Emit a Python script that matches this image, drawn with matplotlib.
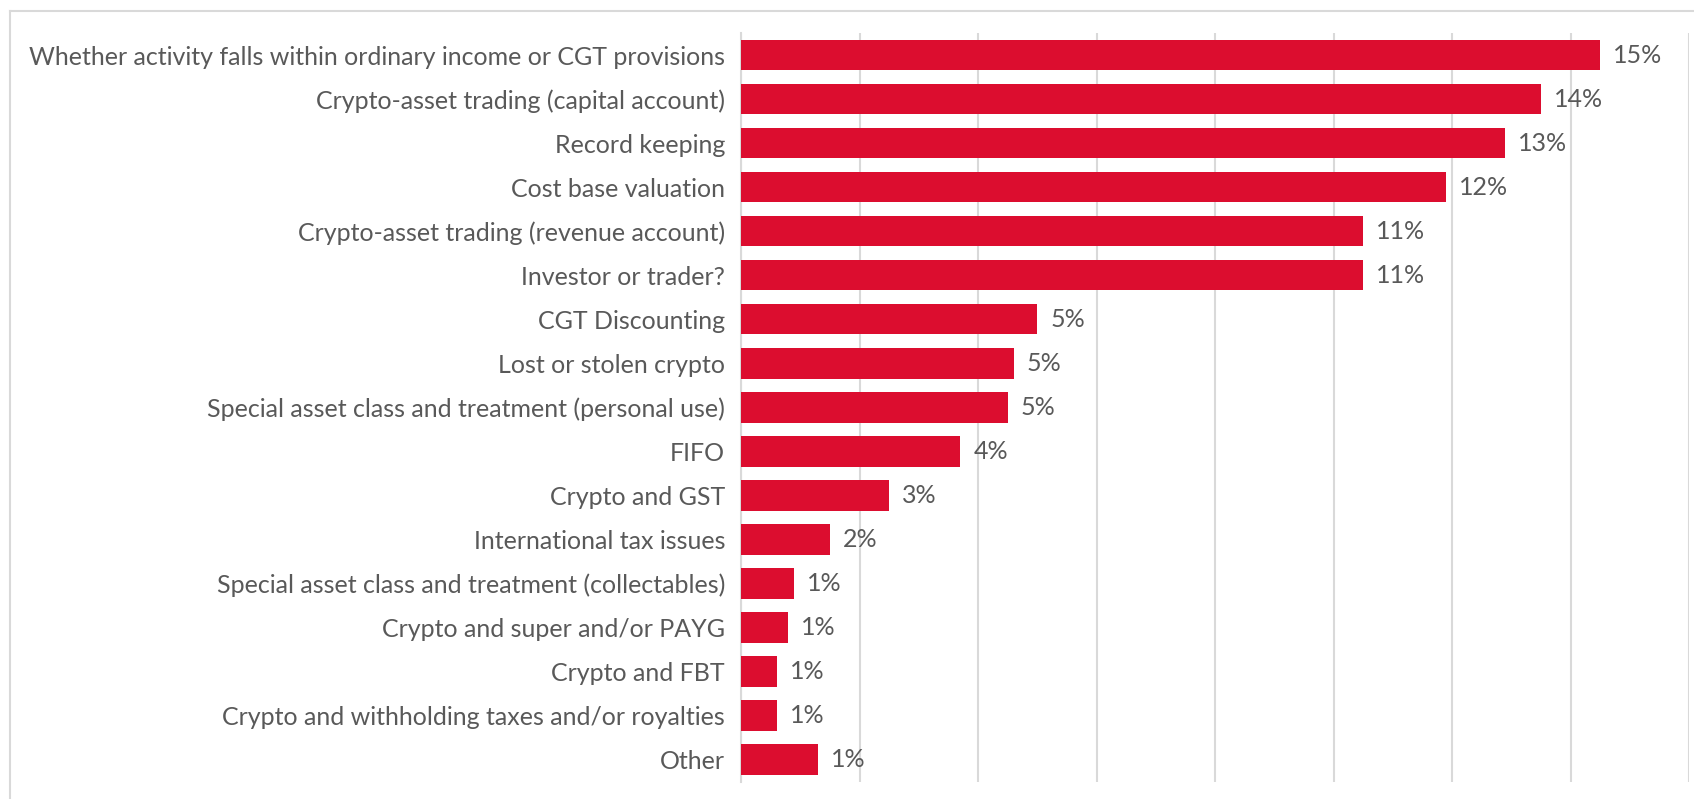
import matplotlib
matplotlib.use("Agg")
import matplotlib.pyplot as plt
from matplotlib.lines import Line2D

categories = [
    "Whether activity falls within ordinary income or CGT provisions",
    "Crypto-asset trading (capital account)",
    "Record keeping",
    "Cost base valuation",
    "Crypto-asset trading (revenue account)",
    "Investor or trader?",
    "CGT Discounting",
    "Lost or stolen crypto",
    "Special asset class and treatment (personal use)",
    "FIFO",
    "Crypto and GST",
    "International tax issues",
    "Special asset class and treatment (collectables)",
    "Crypto and super and/or PAYG",
    "Crypto and FBT",
    "Crypto and withholding taxes and/or royalties",
    "Other",
]
# bar lengths (share of responses)
values = [0.145, 0.135, 0.129, 0.119, 0.105, 0.105, 0.050, 0.046, 0.045,
          0.037, 0.025, 0.015, 0.009, 0.008, 0.006, 0.006, 0.013]
labels = ["15%", "14%", "13%", "12%", "11%", "11%", "5%", "5%", "5%",
          "4%", "3%", "2%", "1%", "1%", "1%", "1%", "1%"]

RED = "#DC0D2F"
TXT = "#595959"
GRID = "#D9D9D9"

plt.rcParams["font.family"] = ["Lato", "DejaVu Sans"]

fig = plt.figure(figsize=(16.94, 7.99), dpi=100)
ax = fig.add_axes([741 / 1694, 1 - 781.7 / 799, (1689 - 741) / 1694, (781.7 - 33) / 799])

y = list(range(len(categories)))
ax.barh(y, values, height=0.69, color=RED, zorder=3)
for yi, v, lab in zip(y, values, labels):
    ax.text(v + 0.0022, yi, lab, va="center", ha="left", fontsize=18, color=TXT)

ax.set_xlim(0, 0.16)
ax.set_xticks([i * 0.02 for i in range(9)])
ax.set_ylim(len(categories) - 0.5, -0.5)
ax.set_yticks(y)
ax.set_yticklabels(categories, fontsize=18, color=TXT)
ax.tick_params(axis="y", length=0, pad=11.5)
ax.tick_params(axis="x", length=0, labelbottom=False)
ax.xaxis.grid(True, color=GRID, linewidth=1.5, zorder=0)

for s in ["top", "right", "bottom"]:
    ax.spines[s].set_visible(False)
ax.spines["left"].set_color(GRID)
ax.spines["left"].set_linewidth(1.5)

# outer frame of the chart area (cropped on the right and bottom)
fig.add_artist(Line2D([10 / 1694, 10 / 1694], [0, 1 - 11 / 799], color=GRID, lw=1.5))
fig.add_artist(Line2D([10 / 1694, 1], [1 - 11 / 799, 1 - 11 / 799], color=GRID, lw=1.5))

fig.savefig("out.png", dpi=100)
